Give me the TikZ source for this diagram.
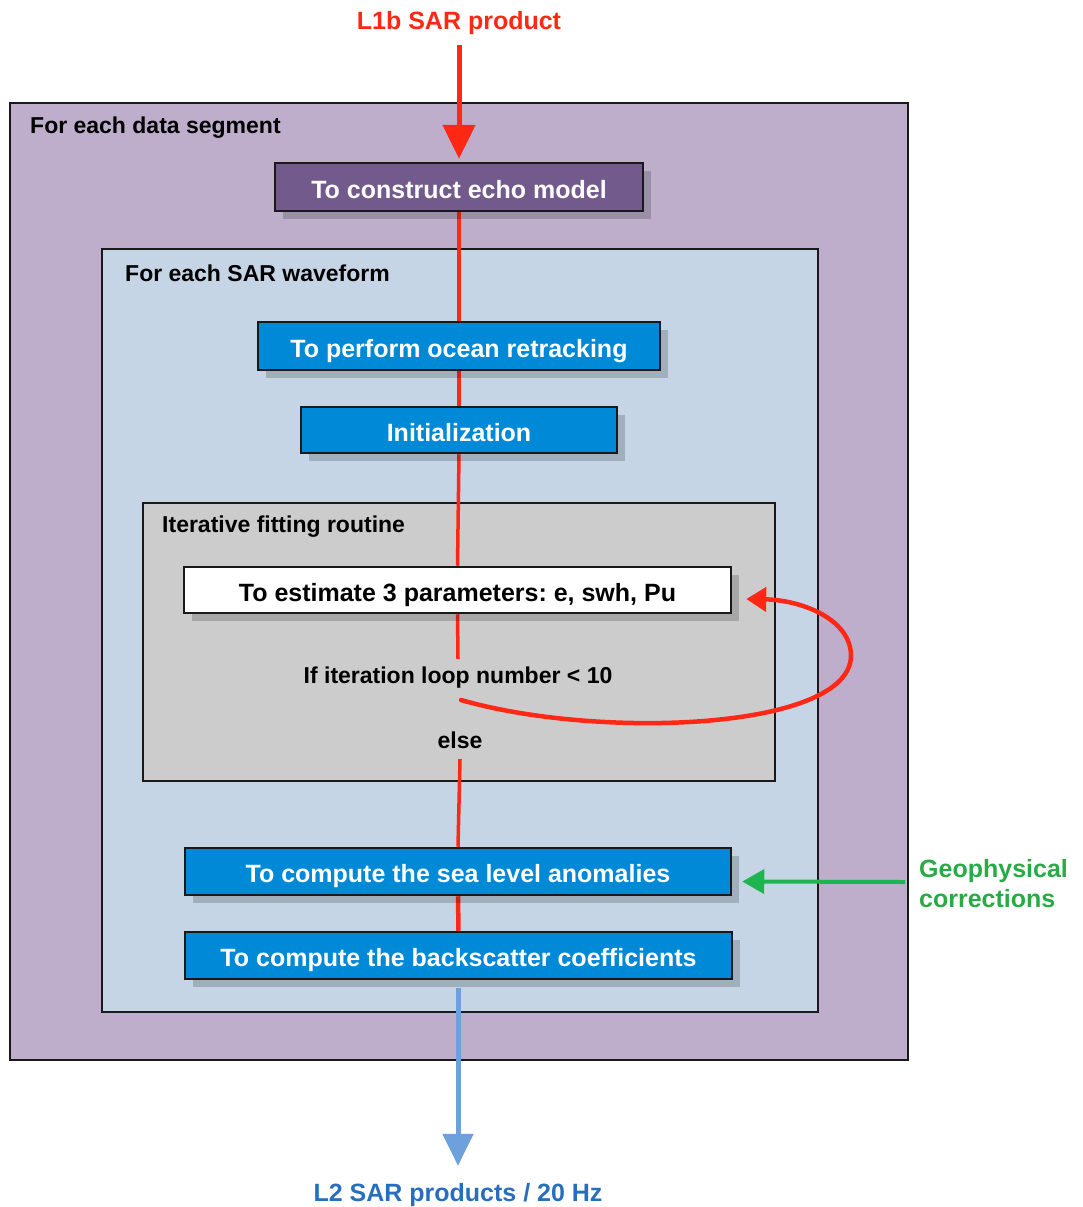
\documentclass[tikz,border=0pt]{standalone}
\usepackage{fontspec}
\setmainfont{Liberation Sans}
\usetikzlibrary{arrows.meta,shadows}
\frenchspacing
\definecolor{outerfill}{RGB}{190,174,204}
\definecolor{echofill}{RGB}{115,90,140}
\definecolor{wavefill}{RGB}{197,213,229}
\definecolor{bluebox}{RGB}{0,137,214}
\definecolor{greyfill}{RGB}{204,204,204}
\definecolor{redline}{RGB}{255,40,20}
\definecolor{greenline}{RGB}{30,180,80}
\definecolor{greentext}{RGB}{40,170,70}
\definecolor{bluearrow}{RGB}{110,160,220}
\definecolor{bluetext}{RGB}{40,110,190}
\pgfdeclarelayer{back}
\pgfdeclarelayer{mid}
\pgfsetlayers{back,mid,main}
\begin{document}
\begin{tikzpicture}[x=1pt,y=-1pt,
  boxfont/.style={font=\fontsize{25}{30}\selectfont\bfseries},
  labfont/.style={font=\fontsize{23}{28}\selectfont\bfseries},
  procbox/.style={draw=black!90,line width=2.5pt,boxfont,text=white,
    inner sep=0pt,text height=22pt,text depth=0pt,
    drop shadow={shadow xshift=8pt,shadow yshift=-8pt,fill=black,opacity=0.18}},
  container/.style={draw=black!90,line width=2.5pt},
  redconn/.style={draw=redline,line width=3.5pt},
  lbl/.style={labfont,anchor=west,inner sep=0pt}
]
\useasboundingbox (0,0) rectangle (1082,1207);

% containers
\begin{pgfonlayer}{back}
\filldraw[container,fill=outerfill] (10,103) rectangle (908,1060);
\filldraw[container,fill=wavefill] (102,249) rectangle (818,1012);
\filldraw[container,fill=greyfill] (143,503) rectangle (775,781);
\end{pgfonlayer}

\node[lbl] (lseg) at (30,128) {For each data segment};
\node[lbl] (lwave) at (125,273) {For each SAR waveform};
\node[lbl] (liter) at (162,527) {Iterative fitting routine};

% process boxes
\node[procbox,fill=echofill,minimum width=368pt,minimum height=48pt] (echo) at (459,187) {To construct echo model};
\node[procbox,fill=bluebox,minimum width=402pt,minimum height=48pt] (ocean) at (459,346) {To perform ocean retracking};
\node[procbox,fill=bluebox,minimum width=316pt,minimum height=46pt] (init) at (459,430) {Initialization};
\node[procbox,fill=white,text=black,minimum width=547pt,minimum height=46pt] (est) at (457.5,590) {To estimate 3 parameters: e, swh, Pu};
\node[procbox,fill=bluebox,minimum width=546pt,minimum height=47pt] (sea) at (458,871.5) {To compute the sea level anomalies};
\node[procbox,fill=bluebox,minimum width=547pt,minimum height=47pt] (back) at (458.5,955.5) {To compute the backscatter coefficients};

\node[labfont,inner sep=0pt,minimum height=26pt] (iftext) at (458,678) {If iteration loop number < 10};
\node[labfont,inner sep=0pt,minimum height=26pt] (elsetext) at (460,740) {else};

% external labels
\node[boxfont,text=redline] (l1b) at (459,23) {L1b SAR product};
\node[boxfont,text=bluetext] (l2) at (458,1195) {L2 SAR products / 20 Hz};
\node[boxfont,text=greentext,align=left,anchor=west,inner sep=0pt] (geo) at (919,884) {Geophysical\\corrections};

\coordinate (l1bstart) at (459,45);
\coordinate (loopstart) at (461,700);
\coordinate (bstart) at (458,988);

% connectors
\begin{pgfonlayer}{mid}
\draw[redconn] (echo.south) -- (ocean.north);
\draw[redconn] (ocean.south) -- (init.north);
\draw[redconn] (init.south) -- (est.north);
\draw[redconn] (est.south) -- ([yshift=6pt]iftext.north);
\draw[redconn] ([yshift=-6pt]elsetext.south) -- (sea.north);
\draw[redconn,line width=4.5pt] (sea.south) -- (back.north);
\draw[line width=5pt,draw=bluearrow,-{Triangle[width=30pt,length=32pt]}] (bstart) -- ([yshift=14pt]l2.north);
\end{pgfonlayer}

\draw[line width=5pt,draw=redline,-{Triangle[width=32pt,length=34pt]}] (l1bstart) -- ([yshift=3pt]echo.north);
\draw[line width=4.5pt,draw=redline,line cap=round,-{Triangle[width=24pt,length=20pt]}]
  (loopstart) .. controls (600,740) and (852,730) .. (851,655)
  .. controls (850,618) and (800,600) .. ([xshift=14pt,yshift=-9pt]est.east);
\draw[line width=4pt,draw=greenline,-{Triangle[width=24pt,length=22pt]}] (905,882) -- ([xshift=10pt,yshift=-10pt]sea.east);
\end{tikzpicture}
\end{document}
